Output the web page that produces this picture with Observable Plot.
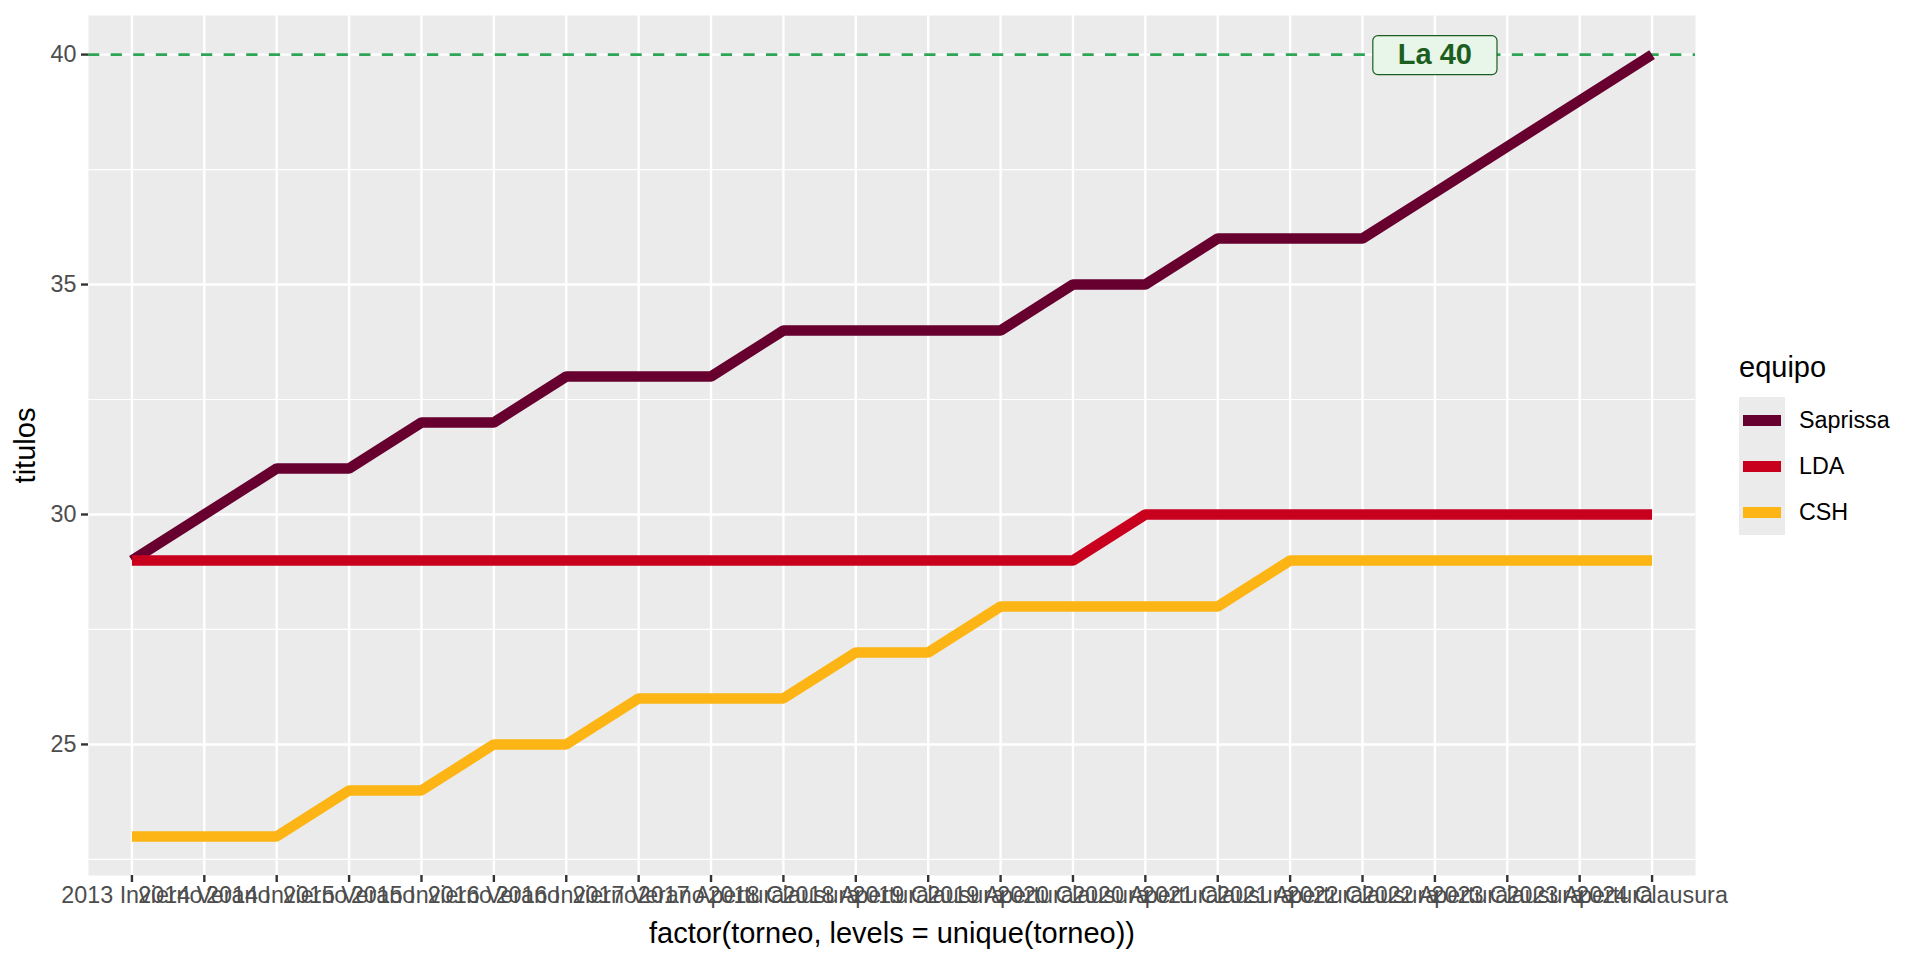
<!DOCTYPE html>
<html>
<head>
<meta charset="utf-8">
<script src="https://cdn.jsdelivr.net/npm/d3@7"></script>
<script src="https://cdn.jsdelivr.net/npm/@observablehq/plot@0.6"></script>
<style>
  html, body { margin: 0; padding: 0; background: #fff; }
  body { width: 1920px; height: 960px; overflow: hidden; font-family: "Liberation Sans", Arial, Helvetica, sans-serif; }
  #wrap { position: relative; width: 1920px; height: 960px; }
  #legend { position: absolute; left: 1739px; top: 353px; }
  #legend .title { font-size: 29px; line-height: 29px; color: #000; margin-bottom: 15px; }
  #legend .row { display: flex; align-items: center; height: 46px; }
  #legend .key { width: 46px; height: 46px; background: #EBEBEB; position: relative; }
  #legend .key span { position: absolute; left: 4px; right: 4px; top: 17.5px; height: 11px; }
  #legend .lab { font-size: 23.3px; color: #000; margin-left: 14px; }
</style>
</head>
<body>
<div id="wrap"><div id="chart"></div><div id="legend"></div></div>
<script>
const torneos = [
  "2013 Invierno", "2014 Verano", "2014 Invierno", "2015 Verano", "2015 Invierno",
  "2016 Verano", "2016 Invierno", "2017 Verano", "2017 Apertura", "2018 Clausura",
  "2018 Apertura", "2019 Clausura", "2019 Apertura", "2020 Clausura", "2020 Apertura",
  "2021 Clausura", "2021 Apertura", "2022 Clausura", "2022 Apertura", "2023 Clausura",
  "2023 Apertura", "2024 Clausura"
];
const equipos = ["Saprissa", "LDA", "CSH"];
const colores = ["#67002F", "#C8001E", "#FDB515"];
const saprissa = [29, 30, 31, 31, 32, 32, 33, 33, 33, 34, 34, 34, 34, 35, 35, 36, 36, 36, 37, 38, 39, 40];
const lda      = [29, 29, 29, 29, 29, 29, 29, 29, 29, 29, 29, 29, 29, 29, 30, 30, 30, 30, 30, 30, 30, 30];
const csh      = [23, 23, 23, 24, 24, 25, 25, 26, 26, 26, 27, 27, 28, 28, 28, 28, 29, 29, 29, 29, 29, 29];
const yTicks = [25, 30, 35, 40];
const yMinor = [22.5, 27.5, 32.5, 37.5];
const meta = 40;
const metaLabel = "La 40";
const metaTorneo = "2022 Apertura";

const series = [saprissa, lda, csh];
const data = [];
equipos.forEach((e, k) => series[k].forEach((v, i) => data.push({torneo: torneos[i], titulos: v, equipo: e})));

const allVals = series.flat();
const lo = d3.min(allVals), hi = d3.max(allVals);
const pad = (hi - lo) * 0.05;

const font = "'Liberation Sans', Arial, Helvetica, sans-serif";

const chart = Plot.plot({
  width: 1920,
  height: 960,
  marginLeft: 88,
  marginRight: 225,
  marginTop: 15,
  marginBottom: 85,
  style: {fontFamily: font, background: "#fff", overflow: "visible"},
  x: {type: "point", domain: torneos, padding: 0.6, round: false},
  y: {domain: [lo - pad, hi + pad]},
  color: {domain: equipos, range: colores},
  marks: [
    Plot.frame({fill: "#EBEBEB", stroke: null}),
    Plot.ruleY(yMinor, {stroke: "#fff", strokeWidth: 1.2}),
    Plot.ruleY(yTicks, {stroke: "#fff", strokeWidth: 2.4}),
    Plot.ruleX(torneos, {stroke: "#fff", strokeWidth: 2.4}),
    Plot.ruleY([meta], {stroke: "#2EA556", strokeWidth: 2.6, strokeDasharray: "11.3,11.3"}),
    Plot.line(data, {x: "torneo", y: "titulos", z: "equipo", stroke: "equipo", strokeWidth: 10.5, strokeLinejoin: "miter", strokeLinecap: "butt", curve: "linear"}),
    Plot.axisX({
      ticks: torneos, tickSize: 7, tickPadding: 4, stroke: "#333", strokeWidth: 2.4,
      fontSize: 23.3, fill: "#4D4D4D",
      label: "factor(torneo, levels = unique(torneo))", labelAnchor: "center", labelArrow: "none", labelOffset: 67
    }),
    Plot.axisY({
      ticks: yTicks, tickSize: 7, tickPadding: 5, stroke: "#333", strokeWidth: 2.4,
      fontSize: 23.3, fill: "#4D4D4D",
      label: "titulos", labelAnchor: "center", labelArrow: "none", labelOffset: 74
    }),
    Plot.text([{torneo: metaTorneo, titulos: meta, label: metaLabel}], {
      x: "torneo", y: "titulos", text: "label",
      fontSize: 29, fontWeight: "bold", fill: "#1B5E20"
    })
  ]
});

// style axis titles
chart.querySelectorAll("g[aria-label='x-axis label'] text, g[aria-label='y-axis label'] text").forEach(t => {
  t.setAttribute("font-size", "29");
  t.setAttribute("fill", "#000");
  t.style.fontSize = "29px";
});

document.getElementById("chart").appendChild(chart);

// label box behind "La 40", sized from the text's rendered box, sharing its transform
const txtG = chart.querySelector("g[aria-label='text']");
if (txtG) {
  const t = txtG.querySelector("text");
  const bb = t.getBBox();
  const ns = "http://www.w3.org/2000/svg";
  const r = document.createElementNS(ns, "rect");
  const w = bb.width + 50, h = 39;
  const cx = bb.x + bb.width / 2;
  r.setAttribute("x", cx - w / 2);
  r.setAttribute("y", 0.5 - h / 2);
  r.setAttribute("width", w);
  r.setAttribute("height", h);
  r.setAttribute("rx", 5);
  r.setAttribute("fill", "#E8F5E9");
  r.setAttribute("stroke", "#1B5E20");
  r.setAttribute("stroke-width", 1.2);
  const tr = t.getAttribute("transform");
  if (tr) r.setAttribute("transform", tr);
  t.parentNode.insertBefore(r, t);
}

// legend
const leg = document.getElementById("legend");
const title = document.createElement("div");
title.className = "title";
title.textContent = "equipo";
leg.appendChild(title);
equipos.forEach((e, i) => {
  const row = document.createElement("div");
  row.className = "row";
  const key = document.createElement("div");
  key.className = "key";
  const sw = document.createElement("span");
  sw.style.background = colores[i];
  key.appendChild(sw);
  const lab = document.createElement("div");
  lab.className = "lab";
  lab.textContent = e;
  row.appendChild(key);
  row.appendChild(lab);
  leg.appendChild(row);
});
</script>
</body>
</html>
